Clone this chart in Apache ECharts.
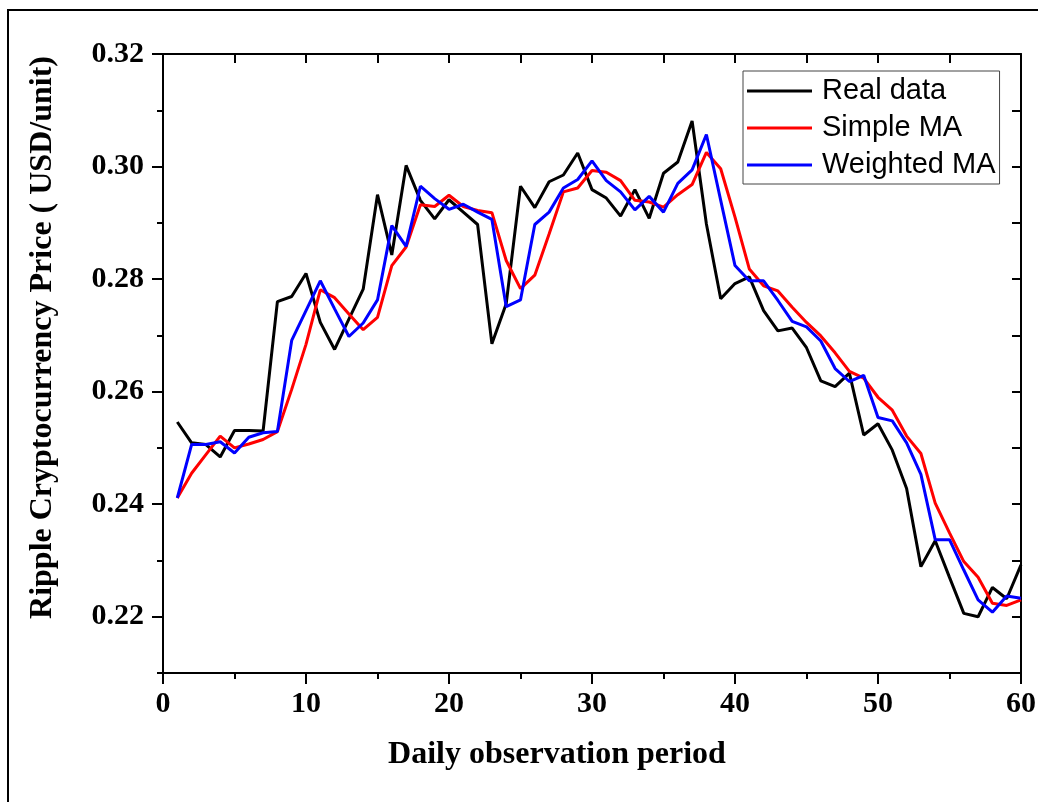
<!DOCTYPE html>
<html>
<head>
<meta charset="utf-8">
<script src="https://cdn.jsdelivr.net/npm/echarts@6/dist/echarts.min.js"></script>
<style>
  html, body { margin: 0; padding: 0; background: #fff; }
  #chart { width: 1038px; height: 802px; }
</style>
</head>
<body>
<div id="chart"></div>
<script>
// observation days
var days = [1, 2, 3, 4, 5, 6, 7, 8, 9, 10, 11, 12, 13, 14, 15, 16, 17, 18, 19, 20,
  21, 22, 23, 24, 25, 26, 27, 28, 29, 30, 31, 32, 33, 34, 35, 36, 37, 38, 39, 40,
  41, 42, 43, 44, 45, 46, 47, 48, 49, 50, 51, 52, 53, 54, 55, 56, 57, 58, 59, 60];

// Real data
var realData = [0.2546, 0.2509, 0.2506, 0.2484, 0.2531, 0.2531, 0.2530, 0.2760, 0.2769, 0.2810,
  0.2723, 0.2675, 0.2729, 0.2782, 0.2950, 0.2843, 0.3002, 0.2940, 0.2907, 0.2941,
  0.2919, 0.2897, 0.2685, 0.2756, 0.2965, 0.2927, 0.2973, 0.2985, 0.3024, 0.2959,
  0.2944, 0.2912, 0.2959, 0.2908, 0.2988, 0.3008, 0.3081, 0.2898, 0.2765, 0.2792,
  0.2804, 0.2744, 0.2708, 0.2713, 0.2678, 0.2619, 0.2609, 0.2633, 0.2523, 0.2543,
  0.2496, 0.2428, 0.2289, 0.2335, 0.2270, 0.2206, 0.2200, 0.2252, 0.2232, 0.2292];

// Simple MA
var simpleMA = [0.2411, 0.2455, 0.2488, 0.2521, 0.2500, 0.2507, 0.2515, 0.2529, 0.2604, 0.2684,
  0.2781, 0.2767, 0.2738, 0.2710, 0.2732, 0.2824, 0.2857, 0.2932, 0.2929, 0.2949,
  0.2929, 0.2922, 0.2918, 0.2833, 0.2783, 0.2807, 0.2880, 0.2955, 0.2962, 0.2993,
  0.2990, 0.2975, 0.2940, 0.2937, 0.2928, 0.2950, 0.2968, 0.3025, 0.2996, 0.2910,
  0.2818, 0.2788, 0.2779, 0.2750, 0.2723, 0.2699, 0.2669, 0.2636, 0.2624, 0.2590,
  0.2567, 0.2521, 0.2490, 0.2402, 0.2349, 0.2298, 0.2270, 0.2224, 0.2220, 0.2230];

// Weighted MA
var weightedMA = [0.2411, 0.2506, 0.2506, 0.2511, 0.2491, 0.2519, 0.2527, 0.2529, 0.2691, 0.2744,
  0.2797, 0.2747, 0.2698, 0.2722, 0.2763, 0.2895, 0.2858, 0.2965, 0.2943, 0.2924,
  0.2933, 0.2919, 0.2906, 0.2751, 0.2763, 0.2897, 0.2919, 0.2962, 0.2977, 0.3010,
  0.2975, 0.2955, 0.2923, 0.2947, 0.2919, 0.2970, 0.2994, 0.3057, 0.2940, 0.2824,
  0.2797, 0.2797, 0.2762, 0.2725, 0.2715, 0.2690, 0.2641, 0.2618, 0.2629, 0.2554,
  0.2548, 0.2509, 0.2453, 0.2337, 0.2337, 0.2283, 0.2230, 0.2208, 0.2237, 0.2233];

// y tick labels (major) and minor ticks
var yMajor = [0.22, 0.24, 0.26, 0.28, 0.30, 0.32];
var yMinor = [0.21, 0.23, 0.25, 0.27, 0.29, 0.31];

function pairs(ys) {
  return days.map(function (d, i) { return [d, ys[i]]; });
}

var serifBold = { fontFamily: "Liberation Serif", fontWeight: "bold", color: "#000" };
var axisLine = { show: true, lineStyle: { color: "#000", width: 2 } };

var myChart = echarts.init(document.getElementById("chart"));
myChart.setOption({
  animation: false,
  backgroundColor: "#fff",
  grid: { left: 163, right: 17, top: 54, bottom: 129, containLabel: false, outerBoundsMode: "none" },
  graphic: [
    {
      type: "rect",
      shape: { x: 8, y: 10, width: 1200, height: 1000 },
      style: { fill: "none", stroke: "#000", lineWidth: 2 },
      silent: true
    }
  ],
  legend: {
    orient: "vertical",
    left: 743,
    top: 71,
    icon: "rect",
    itemWidth: 65,
    itemHeight: 3,
    itemGap: 7,
    padding: [5, 4, 4, 4],
    borderColor: "#444",
    borderWidth: 1,
    textStyle: { fontFamily: "Liberation Sans", fontSize: 29, color: "#000", lineHeight: 30, padding: [0, 0, 0, 5] },
    data: ["Real data", "Simple MA", "Weighted MA"]
  },
  xAxis: [
    {
      type: "value",
      position: "bottom",
      min: 0,
      max: 60,
      interval: 10,
      name: "Daily observation period",
      nameLocation: "middle",
      nameGap: 66,
      nameTextStyle: Object.assign({ fontSize: 32, padding: [0, 70, 0, 0] }, serifBold),
      axisLine: axisLine,
      axisTick: { show: true, length: 11, lineStyle: { color: "#000", width: 2 } },
      minorTick: { show: true, splitNumber: 2, length: 6, lineStyle: { color: "#000", width: 2 } },
      axisLabel: Object.assign({ fontSize: 30, margin: 16 }, serifBold),
      splitLine: { show: false }
    },
    {
      type: "value",
      position: "top",
      min: 0,
      max: 60,
      interval: 5,
      axisLine: axisLine,
      axisTick: { show: true, inside: true, length: 9, lineStyle: { color: "#000", width: 2 } },
      axisLabel: { show: false },
      splitLine: { show: false }
    }
  ],
  yAxis: [
    {
      type: "value",
      position: "left",
      min: 0.21,
      max: 0.32,
      name: "Ripple Cryptocurrency Price ( USD/unit)",
      nameLocation: "middle",
      nameGap: 104,
      nameTextStyle: Object.assign({ fontSize: 32, padding: [0, 0, 0, 52] }, serifBold),
      axisLine: axisLine,
      axisTick: { show: true, length: 11, customValues: yMajor, lineStyle: { color: "#000", width: 2 } },
      axisLabel: Object.assign({
        fontSize: 30,
        margin: 19,
        customValues: yMajor,
        formatter: function (v) { return v.toFixed(2); }
      }, serifBold),
      splitLine: { show: false }
    },
    {
      type: "value",
      position: "left",
      min: 0.21,
      max: 0.32,
      axisLine: { show: false },
      axisTick: { show: true, length: 6, customValues: yMinor, lineStyle: { color: "#000", width: 2 } },
      axisLabel: { show: false },
      splitLine: { show: false }
    },
    {
      type: "value",
      position: "right",
      min: 0.21,
      max: 0.32,
      interval: 0.01,
      axisLine: axisLine,
      axisTick: { show: true, inside: true, length: 9, lineStyle: { color: "#000", width: 2 } },
      axisLabel: { show: false },
      splitLine: { show: false }
    }
  ],
  series: [
    {
      name: "Real data",
      type: "line",
      symbol: "none",
      color: "#000000",
      lineStyle: { width: 3, color: "#000000" },
      data: pairs(realData)
    },
    {
      name: "Simple MA",
      type: "line",
      symbol: "none",
      color: "#ff0000",
      lineStyle: { width: 3, color: "#ff0000" },
      data: pairs(simpleMA)
    },
    {
      name: "Weighted MA",
      type: "line",
      symbol: "none",
      color: "#0000ff",
      lineStyle: { width: 3, color: "#0000ff" },
      data: pairs(weightedMA)
    }
  ]
});
</script>
</body>
</html>
